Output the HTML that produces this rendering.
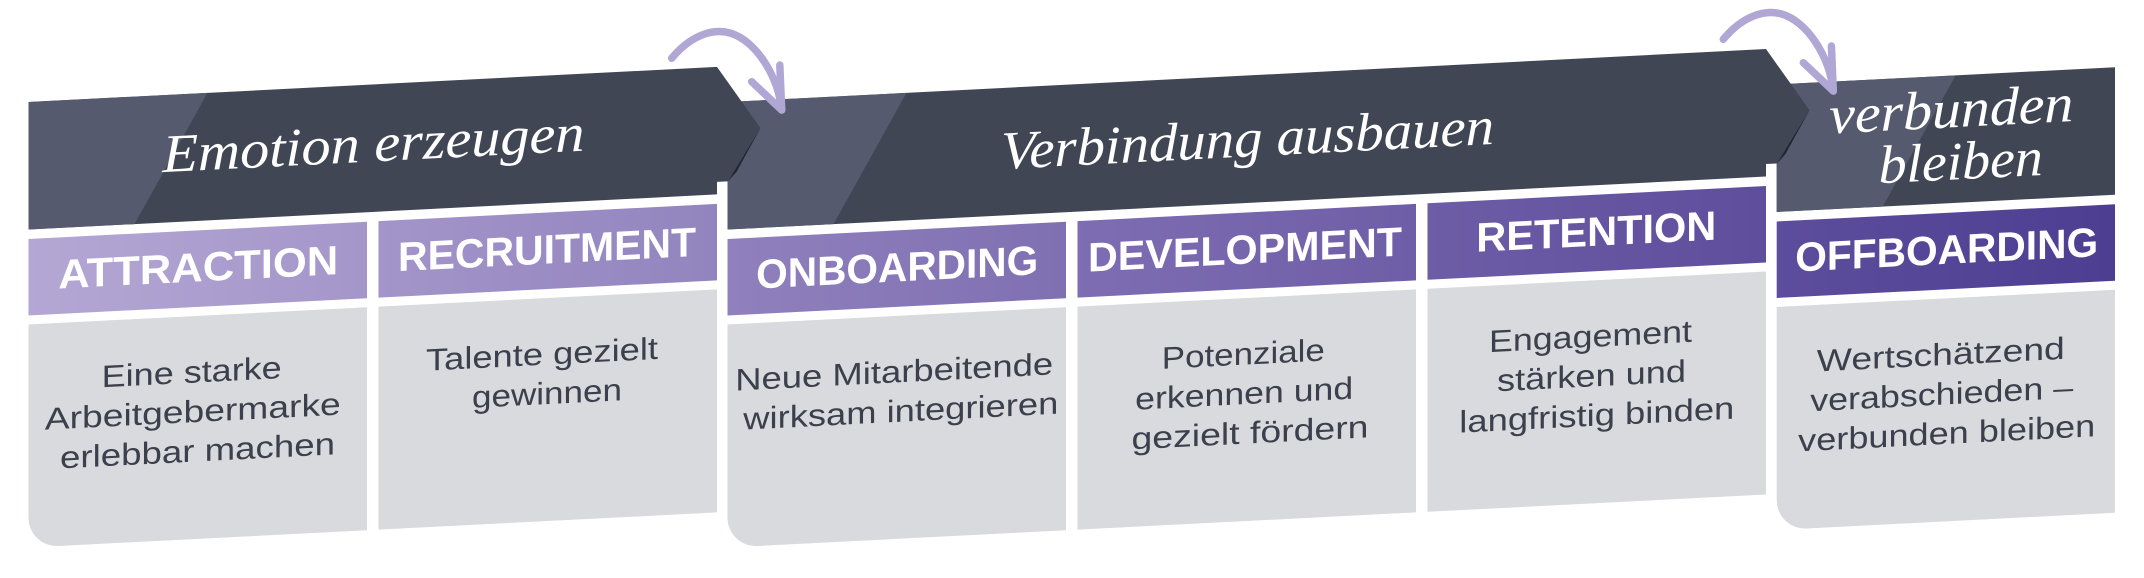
<!DOCTYPE html>
<html>
<head>
<meta charset="utf-8">
<style>
html,body{margin:0;padding:0;background:#ffffff;}
svg{display:block;}
.h{font-family:"Liberation Sans",sans-serif;font-weight:bold;font-size:41px;fill:#ffffff;text-anchor:middle;}
.b{font-family:"Liberation Sans",sans-serif;font-size:31px;fill:#3c404d;text-anchor:middle;}
.s{font-family:"Liberation Serif",serif;font-style:italic;font-size:54px;fill:#ffffff;text-anchor:middle;}
</style>
</head>
<body>
<svg width="2144" height="578" viewBox="0 0 2144 578" xmlns="http://www.w3.org/2000/svg">
<defs>
  <linearGradient id="g1" x1="0" y1="0" x2="1" y2="0"><stop offset="0" stop-color="#b4a7d4"/><stop offset="1" stop-color="#a496c9"/></linearGradient>
  <linearGradient id="g2" x1="0" y1="0" x2="1" y2="0"><stop offset="0" stop-color="#a395c9"/><stop offset="1" stop-color="#9284be"/></linearGradient>
  <linearGradient id="g3" x1="0" y1="0" x2="1" y2="0"><stop offset="0" stop-color="#9080bd"/><stop offset="1" stop-color="#7f70b2"/></linearGradient>
  <linearGradient id="g4" x1="0" y1="0" x2="1" y2="0"><stop offset="0" stop-color="#7e6db2"/><stop offset="1" stop-color="#6e5ea7"/></linearGradient>
  <linearGradient id="g5" x1="0" y1="0" x2="1" y2="0"><stop offset="0" stop-color="#6d5ca6"/><stop offset="1" stop-color="#5e4e9c"/></linearGradient>
  <linearGradient id="g6" x1="0" y1="0" x2="1" y2="0"><stop offset="0" stop-color="#5d4d9c"/><stop offset="1" stop-color="#4e3e92"/></linearGradient>
</defs>

<!-- SECTION 3 -->
<g transform="translate(1776.7,-17.5) skewY(-2.92)">
  <polygon points="0,102 338.3,102 338.3,229.5 0,229.5" fill="#414654"/>
  <polygon points="0,102 179,102 106,229.5 0,229.5" fill="#555a6e"/>
  <rect x="0" y="239" width="338.3" height="76.5" fill="url(#g6)"/>
  <path d="M0,324.5 H338.3 V547.5 H30 A30,30 0 0 1 0,517.5 Z" fill="#d9dade"/>
  <text class="s" x="174.6" y="153.7" textLength="244" lengthAdjust="spacingAndGlyphs">verbunden</text>
  <text class="s" x="184" y="206" textLength="164" lengthAdjust="spacingAndGlyphs">bleiben</text>
  <text class="h" x="170" y="290" textLength="303" lengthAdjust="spacingAndGlyphs">OFFBOARDING</text>
  <text class="b" x="164.1" y="391" textLength="248" lengthAdjust="spacingAndGlyphs">Wertschätzend</text>
  <text class="b" x="165" y="430.5" textLength="263" lengthAdjust="spacingAndGlyphs">verabschieden –</text>
  <text class="b" x="170" y="470" textLength="297" lengthAdjust="spacingAndGlyphs">verbunden bleiben</text>
</g>

<!-- SECTION 2 -->
<g transform="translate(727.5,0) skewY(-2.92)">
  <polygon points="0,102 1038.5,102 1082,165.5 1049,217 1038.5,217 1038.5,229.5 0,229.5" fill="#414654"/>
  <polygon points="0,102 179,102 106,229.5 0,229.5" fill="#555a6e"/>
  <rect x="0" y="239" width="338.5" height="76.5" fill="url(#g3)"/>
  <rect x="350" y="239" width="338.5" height="76.5" fill="url(#g4)"/>
  <rect x="700" y="239" width="338.5" height="76.5" fill="url(#g5)"/>
  <path d="M0,324.5 H338.5 V547.5 H30 A30,30 0 0 1 0,517.5 Z" fill="#d9dade"/>
  <rect x="350" y="324.5" width="338.5" height="223" fill="#d9dade"/>
  <rect x="700" y="324.5" width="338.5" height="223" fill="#d9dade"/>
  <text class="s" x="520" y="183" textLength="493" lengthAdjust="spacingAndGlyphs">Verbindung ausbauen</text>
  <text class="h" x="169.7" y="290" textLength="282" lengthAdjust="spacingAndGlyphs">ONBOARDING</text>
  <text class="h" x="517.5" y="290" textLength="314" lengthAdjust="spacingAndGlyphs">DEVELOPMENT</text>
  <text class="h" x="868.8" y="290" textLength="240" lengthAdjust="spacingAndGlyphs">RETENTION</text>
  <text class="b" x="166.7" y="391" textLength="318" lengthAdjust="spacingAndGlyphs">Neue Mitarbeitende</text>
  <text class="b" x="173.3" y="430.5" textLength="315" lengthAdjust="spacingAndGlyphs">wirksam integrieren</text>
  <text class="b" x="515.8" y="391" textLength="163" lengthAdjust="spacingAndGlyphs">Potenziale</text>
  <text class="b" x="516.7" y="430.5" textLength="218" lengthAdjust="spacingAndGlyphs">erkennen und</text>
  <text class="b" x="522.5" y="470" textLength="237" lengthAdjust="spacingAndGlyphs">gezielt fördern</text>
  <text class="b" x="863" y="391" textLength="203" lengthAdjust="spacingAndGlyphs">Engagement</text>
  <text class="b" x="864" y="430.5" textLength="189" lengthAdjust="spacingAndGlyphs">stärken und</text>
  <text class="b" x="869.3" y="470" textLength="275" lengthAdjust="spacingAndGlyphs">langfristig binden</text>
  <!-- shadow sliver of chevron onto section 3 -->
  <polygon points="1082,165.5 1049,217.5 1058,208" fill="#24262f"/>
</g>

<!-- SECTION 1 -->
<g transform="translate(28.5,0) skewY(-2.92)">
  <polygon points="0,102 688.5,102 732,165.5 699,217 688.5,217 688.5,229.5 0,229.5" fill="#414654"/>
  <polygon points="0,102 179,102 106,229.5 0,229.5" fill="#555a6e"/>
  <rect x="0" y="239" width="338.5" height="76.5" fill="url(#g1)"/>
  <rect x="350" y="239" width="338.5" height="76.5" fill="url(#g2)"/>
  <path d="M0,324.5 H338.5 V547.5 H30 A30,30 0 0 1 0,517.5 Z" fill="#d9dade"/>
  <rect x="350" y="324.5" width="338.5" height="223" fill="#d9dade"/>
  <text class="s" x="345" y="179" textLength="422" lengthAdjust="spacingAndGlyphs">Emotion erzeugen</text>
  <text class="h" x="169.8" y="290" textLength="280" lengthAdjust="spacingAndGlyphs">ATTRACTION</text>
  <text class="h" x="518.5" y="290" textLength="298" lengthAdjust="spacingAndGlyphs">RECRUITMENT</text>
  <text class="b" x="163.2" y="391" textLength="180" lengthAdjust="spacingAndGlyphs">Eine starke</text>
  <text class="b" x="164.3" y="430.5" textLength="296" lengthAdjust="spacingAndGlyphs">Arbeitgebermarke</text>
  <text class="b" x="169" y="470" textLength="275" lengthAdjust="spacingAndGlyphs">erlebbar machen</text>
  <text class="b" x="513.5" y="391" textLength="232" lengthAdjust="spacingAndGlyphs">Talente gezielt</text>
  <text class="b" x="518.5" y="430.5" textLength="150" lengthAdjust="spacingAndGlyphs">gewinnen</text>
  <!-- shadow sliver of chevron onto section 2 -->
  <polygon points="732,165.5 699,217.5 708,208" fill="#24262f"/>
</g>

<!-- curved arrows -->
<g fill="none" stroke="#b1a7d4" stroke-width="7.5" stroke-linecap="round" stroke-linejoin="round">
  <path d="M671.7,58.3 C690,36 712,28 730,33 C755,40 778,75 781.7,110"/>
  <path d="M751.7,81.7 L781.7,110 L779.8,65"/>
  <g transform="translate(1051.6,-19)">
    <path d="M671.7,58.3 C690,36 712,28 730,33 C755,40 778,75 781.7,110"/>
    <path d="M751.7,81.7 L781.7,110 L779.8,65"/>
  </g>
</g>
</svg>
</body>
</html>
